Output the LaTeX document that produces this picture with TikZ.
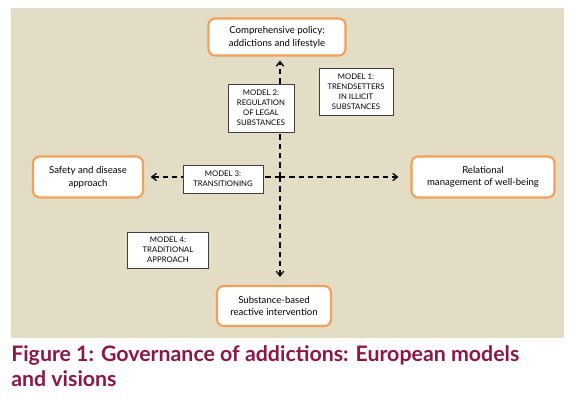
\documentclass[tikz,border=0pt]{standalone}
\usepackage{fontspec}
\setmainfont{Lato}
\usetikzlibrary{arrows.meta}
\definecolor{bgbeige}{RGB}{226,221,196}
\definecolor{orangeb}{RGB}{242,160,90}
\definecolor{capred}{RGB}{140,22,72}
\begin{document}
\begin{tikzpicture}[x=0.75pt,y=-0.75pt,
  goal/.style={draw=orangeb,line width=1.6pt,rounded corners=5pt,fill=white,
    align=center,font=\fontsize{7.2}{9.5}\selectfont,inner sep=0pt},
  modelbox/.style={draw=black!75,line width=0.5pt,fill=white,align=center,
    font=\fontsize{5.8}{7.6}\selectfont,inner sep=0pt},
  conn/.style={dashed,line width=0.9pt,dash pattern=on 4pt off 3pt,
    -{Straight Barb[length=3.5pt,width=5.5pt,line width=1pt]}}]
\useasboundingbox (0,0) rectangle (572,406);
\fill[bgbeige] (11,8) rectangle (564,338);
\coordinate (c) at (280,177);
% goal boxes
\node[goal,minimum width=137*0.75pt,minimum height=37*0.75pt] (top) at (277,37)
  {Comprehensive policy:\\addictions and lifestyle};
\node[goal,minimum width=110*0.75pt,minimum height=41*0.75pt] (left) at (88,177)
  {Safety and disease\\approach};
\node[goal,minimum width=143*0.75pt,minimum height=41*0.75pt] (right) at (483,177)
  {Relational\\management of well-being};
\node[goal,minimum width=114*0.75pt,minimum height=40*0.75pt] (bottom) at (274,306)
  {Substance-based\\reactive intervention};
% connectors
\draw[conn,shorten >=3pt] (c) -- (c |- top.south);
\draw[conn,shorten >=5pt] (c) -- (c -| left.east);
\draw[conn,shorten >=9pt] (c) -- (c -| right.west);
\draw[conn,shorten >=6pt] (c) -- (c |- bottom.north);
% model boxes
\node[modelbox,minimum width=74*0.75pt,minimum height=47*0.75pt] (m1) at (356,92)
  {MODEL 1:\\TRENDSETTERS\\IN ILLICIT\\SUBSTANCES};
\node[modelbox,minimum width=66*0.75pt,minimum height=48*0.75pt] (m2) at (261,108)
  {MODEL 2:\\REGULATION\\OF LEGAL\\SUBSTANCES};
\node[modelbox,minimum width=80*0.75pt,minimum height=28*0.75pt] (m3) at (223,179)
  {MODEL 3:\\TRANSITIONING};
\node[modelbox,minimum width=81*0.75pt,minimum height=36*0.75pt] (m4) at (168,250)
  {MODEL 4:\\TRADITIONAL\\APPROACH};
% caption
\node[anchor=north west,align=left,inner sep=0pt,text=capred,
  font=\fontsize{16}{19}\selectfont\bfseries] (cap) at (11,345)
  {Figure 1: Governance of addictions: European models\\and visions};
\end{tikzpicture}
\end{document}
